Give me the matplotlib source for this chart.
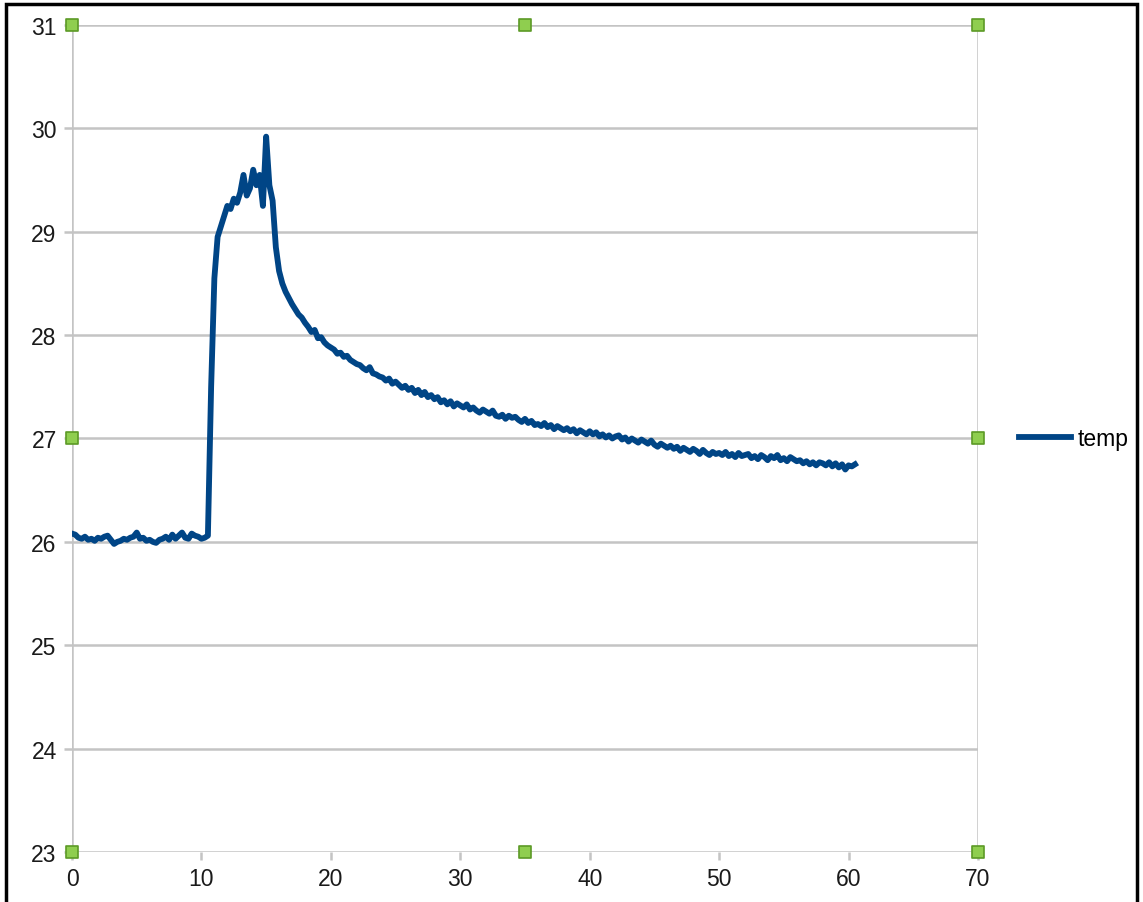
import numpy as np
import matplotlib.pyplot as plt
from matplotlib.patches import Rectangle

plt.rcParams['font.family'] = ['Liberation Sans', 'DejaVu Sans']

# temperature readings, one every 0.25 s
temp = [
    # 0 - 10.5 : idle
    26.08, 26.07, 26.04, 26.03, 26.05, 26.02, 26.03, 26.01,
    26.04, 26.03, 26.05, 26.06, 26.02, 25.98, 26.00, 26.01,
    26.03, 26.02, 26.04, 26.05, 26.09, 26.03, 26.04, 26.01,
    26.02, 26.00, 25.99, 26.02, 26.03, 26.05, 26.02, 26.07,
    26.03, 26.06, 26.09, 26.04, 26.03, 26.08, 26.06, 26.05,
    26.03, 26.04, 26.06,
    # 10.75 - 20.0 : heating and peak
    27.50, 28.55, 28.95, 29.05, 29.15, 29.25, 29.22, 29.32,
    29.28, 29.38, 29.55, 29.35, 29.42, 29.60, 29.45, 29.55,
    29.25, 29.92, 29.45, 29.30, 28.85, 28.62, 28.50, 28.42,
    28.36, 28.30, 28.25, 28.20, 28.17, 28.12, 28.08, 28.03,
    28.05, 27.97, 27.98, 27.93, 27.90, 27.88,
    # 20.25 - 60.5 : cooling
    27.86, 27.82, 27.83, 27.79, 27.80, 27.76, 27.74, 27.72,
    27.71, 27.68, 27.66, 27.69, 27.63, 27.62, 27.60, 27.59,
    27.56, 27.58, 27.53, 27.55, 27.52, 27.49, 27.51, 27.47,
    27.49, 27.44, 27.47, 27.42, 27.45, 27.40, 27.42, 27.38,
    27.40, 27.35, 27.37, 27.33, 27.36, 27.31, 27.34, 27.32,
    27.30, 27.33, 27.28, 27.30, 27.27, 27.25, 27.28, 27.26,
    27.24, 27.27, 27.22, 27.21, 27.23, 27.19, 27.22, 27.20,
    27.21, 27.18, 27.16, 27.19, 27.15, 27.17, 27.13, 27.14,
    27.12, 27.15, 27.11, 27.13, 27.09, 27.12, 27.10, 27.08,
    27.10, 27.07, 27.09, 27.05, 27.08, 27.06, 27.04, 27.07,
    27.04, 27.06, 27.02, 27.04, 27.01, 27.03, 27.00, 27.02,
    27.03, 26.99, 27.01, 26.97, 27.00, 26.98, 26.96, 26.99,
    26.97, 26.95, 26.98, 26.94, 26.92, 26.95, 26.93, 26.91,
    26.93, 26.90, 26.92, 26.88, 26.91, 26.89, 26.87, 26.90,
    26.88, 26.85, 26.89, 26.86, 26.84, 26.87, 26.85, 26.86,
    26.84, 26.87, 26.83, 26.85, 26.82, 26.86, 26.83, 26.84,
    26.85, 26.81, 26.83, 26.80, 26.84, 26.82, 26.79, 26.83,
    26.81, 26.84, 26.79, 26.81, 26.78, 26.82, 26.80, 26.78,
    26.79, 26.76, 26.78, 26.75, 26.77, 26.74, 26.77, 26.76,
    26.74, 26.77, 26.73, 26.76, 26.72, 26.75, 26.70, 26.74,
    26.73, 26.75,
]
time = np.arange(len(temp)) * 0.25

x_ticks = [0, 10, 20, 30, 40, 50, 60, 70]
y_ticks = [23, 24, 25, 26, 27, 28, 29, 30, 31]

fig = plt.figure(figsize=(11.43, 9.03), dpi=100)
ax = fig.add_axes([0.063, 0.0554, 0.7926, 0.9158])

grid_c = '#c4c4c4'
for y in y_ticks:
    ax.axhline(y, color=grid_c, lw=1.8, zorder=1)
ax.axvline(0, color=grid_c, lw=1.8, zorder=1)
ax.axvline(70, color=grid_c, lw=1.8, zorder=1)

ax.plot(time, temp, color='#004586', lw=4.2, label='temp', zorder=3,
        solid_joinstyle='round')

ax.set_xlim(0, 70)
ax.set_ylim(23, 31)
ax.set_xticks(x_ticks)
ax.set_yticks(y_ticks)
for s in ax.spines.values():
    s.set_visible(False)
ax.tick_params(axis='both', colors=grid_c, labelcolor='#1a1a1a',
               labelsize=16.5, length=6, width=1.8)
ax.tick_params(axis='y', pad=5)
ax.tick_params(axis='x', pad=5)

# green selection handles around the plot area
hx = [0, 35, 70, 0, 70, 0, 35, 70]
hy = [31, 31, 31, 27, 27, 23, 23, 23]
ax.scatter(hx, hy, marker='s', s=75, color='#8fce4f', edgecolor='#5c9a26',
           linewidth=1.2, zorder=5, clip_on=False)

ax.legend(loc='center left', bbox_to_anchor=(1.022, 0.5), frameon=False,
          fontsize=16.5, handlelength=2.3, handletextpad=0.3)

fig.patches.append(Rectangle((0.005, -0.02), 0.99, 1.014, transform=fig.transFigure,
                             fill=False, edgecolor='black', lw=2.5))

fig.savefig('out.png', dpi=100)
